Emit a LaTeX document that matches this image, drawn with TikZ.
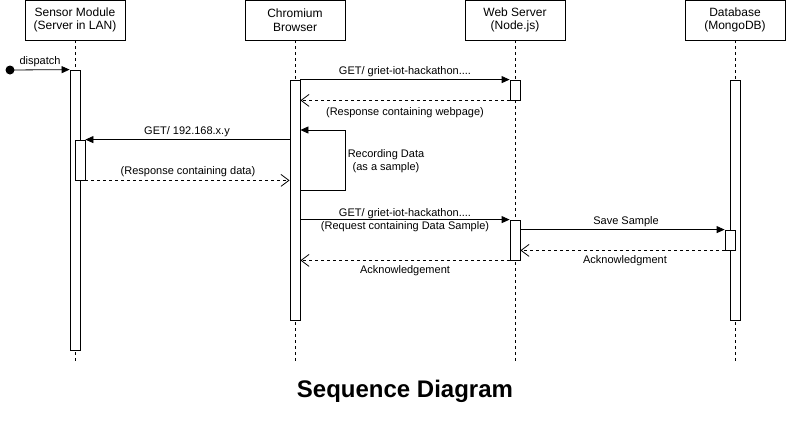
\documentclass[tikz,border=0pt]{standalone}
\usepackage{fontspec}
\setmainfont{Liberation Sans}
\usetikzlibrary{arrows.meta}
\tikzset{
  head/.style={draw, fill=white, minimum width=100pt, minimum height=40pt, inner sep=0pt, align=center, font=\fontsize{12}{13.5}\selectfont},
  bar/.style={draw, fill=white, inner sep=0pt, minimum width=10pt},
  lifeline/.style={dash pattern=on 3pt off 3pt, line width=0.8pt},
  msg/.style={line width=0.8pt, -{Triangle[length=8pt,width=7pt]}},
  reply/.style={line width=0.8pt, dash pattern=on 3pt off 3pt, -{Straight Barb[length=8pt,width=12pt]}},
  lbl/.style={inner sep=0pt, font=\fontsize{11}{13}\selectfont, align=center},
}
\begin{document}
\begin{tikzpicture}[x=1pt,y=-1pt, line width=0.8pt]
\useasboundingbox (0,0) rectangle (786,421);
% headers
\node[head] (hs) at (75,20) {Sensor Module\\(Server in LAN)};
\node[head] (hc) at (295,20) {Chromium\\Browser};
\node[head] (hw) at (515,20) {Web Server\\(Node.js)};
\node[head] (hd) at (735,20) {Database\\(MongoDB)};
% lifeline ends
\coordinate (es) at (75,361);
\coordinate (ec) at (295,361);
\coordinate (ew) at (515,361);
\coordinate (ed) at (735,361);
\draw[lifeline] (hs.south) -- (es);
\draw[lifeline] (hc.south) -- (ec);
\draw[lifeline] (hw.south) -- (ew);
\draw[lifeline] (hd.south) -- (ed);
% activation bars
\node[bar, minimum height=280pt] (sa) at (75,210) {};
\node[bar, minimum height=40pt] (sb) at (80,160) {};
\node[bar, minimum height=240pt] (ca) at (295,200) {};
\node[bar, minimum height=20pt] (wa) at (515,90) {};
\node[bar, minimum height=40pt] (wb) at (515,240) {};
\node[bar, minimum height=240pt] (da) at (735,200) {};
\node[bar, minimum height=20pt] (db) at (730,240) {};
% dispatch
\coordinate (start) at (10,70);
\fill (start) circle (4.5pt);
\draw[msg] (start) -- (sa.north west);
\node[lbl] (ldisp) at (40,62) {dispatch};
% GET 1
\draw[msg] (ca.east |- wa.north west) -- (wa.north west);
\node[lbl] (lget1) at (405,72) {GET/ griet-iot-hackathon....};
\draw[reply] (wa.south west) -- (ca.east |- wa.south west);
\node[lbl] (lresp1) at (405,113) {(Response containing webpage)};
% GET sensor
\draw[msg] (ca.west |- sb.north east) -- (sb.north east);
\node[lbl] (lget2) at (187,132) {GET/ 192.168.x.y};
\draw[reply] (sb.south east) -- (ca.west |- sb.south east);
\node[lbl] (lresp2) at (188,172) {(Response containing data)};
% self message
\coordinate (s1) at (300,190);
\coordinate (s2) at (345,190);
\coordinate (s3) at (345,130);
\draw[msg] (s1) -- (s2) -- (s3) -- (ca.east |- s3);
\node[lbl] (lrec) at (386,161) {Recording Data\\(as a sample)};
% GET 2
\draw[msg] (ca.east |- wb.north west) -- (wb.north west);
\node[lbl] (lget3) at (405,214) {GET/ griet-iot-hackathon....};
\node[lbl] (lreq) at (405,227) {(Request containing Data Sample)};
% save sample
\draw[msg] (wb.east |- db.north west) -- (db.north west);
\node[lbl] (lsave) at (626,222) {Save Sample};
\draw[reply] (db.south west) -- (wb.east |- db.south west);
\node[lbl] (lack1) at (625,261) {Acknowledgment};
\draw[reply] (wb.south west) -- (ca.east |- wb.south west);
\node[lbl] (lack2) at (405,271) {Acknowledgement};
% title
\node[inner sep=0pt, font=\fontsize{24}{27}\selectfont\bfseries] (title) at (405,391) {Sequence Diagram};
\end{tikzpicture}
\end{document}
